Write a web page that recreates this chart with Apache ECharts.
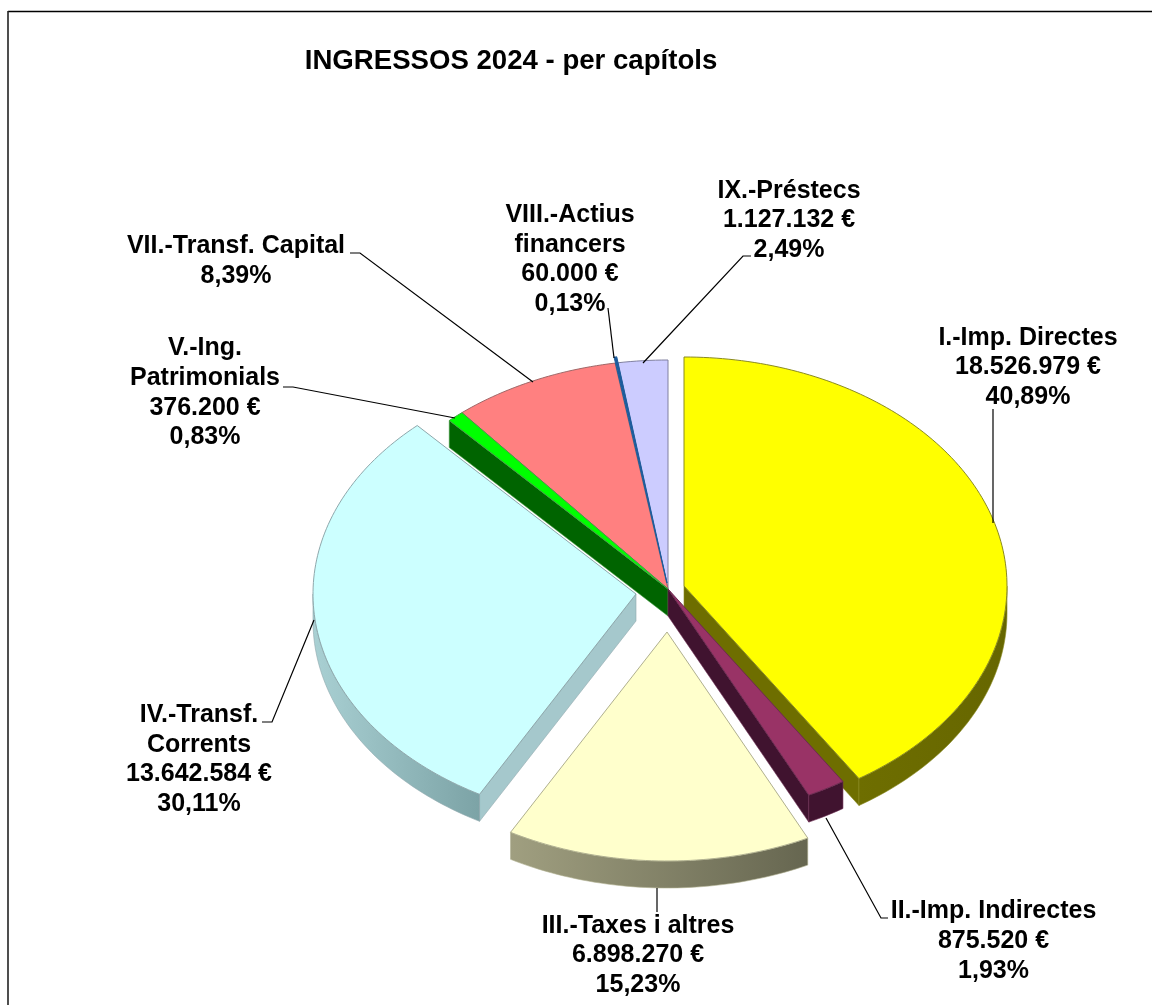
<!DOCTYPE html>
<html>
<head>
<meta charset="utf-8">
<style>html,body{margin:0;padding:0;background:#fff}#c{width:1152px;height:1005px}</style>
<script src="https://cdn.jsdelivr.net/npm/echarts@6/dist/echarts.min.js"></script>
</head>
<body>
<div id="c"></div>
<script>
// ---- data ----
const chartTitle = 'INGRESSOS 2024 - per capítols';
const chapterNames = ['I.-Imp. Directes', 'II.-Imp. Indirectes', 'III.-Taxes i altres', 'IV.-Transf.\nCorrents', 'V.-Ing.\nPatrimonials', 'VII.-Transf. Capital', 'VIII.-Actius\nfinancers', 'IX.-Préstecs'];
const chapterValues = [18526979, 875520, 6898270, 13642584, 376200, 3802000, 60000, 1127132];
const amountLabels = ['18.526.979 €', '875.520 €', '6.898.270 €', '13.642.584 €', '376.200 €', '', '60.000 €', '1.127.132 €'];
const percentLabels = ['40,89%', '1,93%', '15,23%', '30,11%', '0,83%', '8,39%', '0,13%', '2,49%'];

// ---- styling and layout ----
const topColors = ['#ffff00', '#993366', '#ffffcc', '#ccffff', '#00ff00', '#ff8080', '#1c5c9c', '#ccccff'];
const sideLeft = ['#6e6e00', '#40132f', '#a09f80', '#a9d0d3', '#006400', '#803f3f', '#0e2e4e', '#66667f'];
const sideRight = ['#666600', '#40132f', '#666650', '#7ca3a6', '#006400', '#803f3f', '#0e2e4e', '#66667f'];
const wallColors = ['#6e6e00', '#40132f', '#666650', '#a5c8cc', '#006400', '#803f3f', '#0e2e4e', '#66667f'];
const edgeColors = ['#8a8a20', '#6b2a50', '#b0b090', '#8fa8ac', '#40a040', '#a06868', '#1c5c9c', '#8080a0'];
const sliceOffsets = [[16, -3], [0, 0], [-1, 43], [-32, 5], [0, 0], [0, 0], [-1, -6], [0, 0]];
const wallHidden = [false, false, false, false, false, true, true, true];
const paintOrder = [7, 5, 6, 4, 0, 1, 3, 2];
const CX = 668, CY = 589, RX = 323, RY = 229, DEPTH = 27;

const labelCenters = [[1028, 367.5], [993.5, 941], [638, 955.5], [199, 759.5], [205, 393], [236, 261], [570, 259.5], [789, 220.5]];
const leaderPaths = [
  [[993, 409], [993, 523]],
  [[826, 818], [881, 918], [888, 918]],
  [[657, 888], [657, 912]],
  [[314, 620], [272, 722], [262, 722]],
  [[455, 418], [293, 387], [283, 387]],
  [[533, 382], [360, 253], [350, 253]],
  [[608, 308], [614, 358]],
  [[643, 363], [743, 256], [751, 256]]
];
const FONT = 'Liberation Sans';

// ---- cumulative angles from values (clockwise from 12 o'clock) ----
const total = chapterValues.reduce((a, b) => a + b, 0);
const startAngles = [], endAngles = [];
chapterValues.reduce((acc, v, i) => {
  startAngles[i] = acc / total * 2 * Math.PI;
  endAngles[i] = (acc + v) / total * 2 * Math.PI;
  return acc + v;
}, 0);

function arcPoints(cx, cy, a0, a1) {
  const n = Math.max(2, Math.ceil((a1 - a0) / 0.02));
  const pts = [];
  for (let k = 0; k <= n; k++) {
    const a = a0 + (a1 - a0) * k / n;
    pts.push([cx + RX * Math.sin(a), cy - RY * Math.cos(a)]);
  }
  return pts;
}
const shift = pts => pts.map(p => [p[0], p[1] + DEPTH]);

function renderSlice(params) {
  const idx = paintOrder[params.dataIndex];
  const a0 = startAngles[idx], a1 = endAngles[idx];
  const cx = CX + sliceOffsets[idx][0], cy = CY + sliceOffsets[idx][1];
  const children = [];
  const poly = (points, fill, stroke, lw) => ({
    type: 'polygon', shape: { points },
    style: { fill, stroke: stroke || null, lineWidth: lw || 0 }
  });
  const outer = arcPoints(cx, cy, a0, a1);
  // flat walls at the slice's cut edges
  if (!wallHidden[idx] && Math.sin(a0) < 0) {
    const o = outer[0];
    children.push(poly([[cx, cy], o, [o[0], o[1] + DEPTH], [cx, cy + DEPTH]], wallColors[idx], edgeColors[idx], 0.6));
  }
  if (!wallHidden[idx] && Math.sin(a1) > 0) {
    const o = outer[outer.length - 1];
    children.push(poly([[cx, cy], o, [o[0], o[1] + DEPTH], [cx, cy + DEPTH]], wallColors[idx], edgeColors[idx], 0.6));
  }
  // curved rim for the front half
  const r0 = Math.max(a0, Math.PI / 2), r1 = Math.min(a1, 3 * Math.PI / 2);
  if (r1 > r0) {
    const rim = arcPoints(cx, cy, r0, r1);
    const fill = new echarts.graphic.LinearGradient(0, 0, 1, 0, [
      { offset: 0, color: sideLeft[idx] }, { offset: 1, color: sideRight[idx] }
    ]);
    children.push(poly(rim.concat(shift(rim).reverse()), fill, edgeColors[idx], 0.6));
  }
  // top face
  children.push(poly([[cx, cy]].concat(outer), topColors[idx], edgeColors[idx], 1));
  return { type: 'group', children };
}

function renderLabel(params) {
  const idx = params.dataIndex;
  const lines = [chapterNames[idx]];
  if (amountLabels[idx]) lines.push(amountLabels[idx]);
  lines.push(percentLabels[idx]);
  return {
    type: 'group',
    children: [
      { type: 'polyline', shape: { points: leaderPaths[idx] }, style: { stroke: '#000', lineWidth: 1.2, fill: null } },
      {
        type: 'text',
        style: {
          text: lines.join('\n'), x: labelCenters[idx][0], y: labelCenters[idx][1],
          align: 'center', verticalAlign: 'middle',
          fontFamily: FONT, fontWeight: 'bold', fontSize: 25, lineHeight: 29.7, fill: '#000'
        }
      }
    ]
  };
}

const chart = echarts.init(document.getElementById('c'), null, { renderer: 'canvas' });
chart.setOption({
  animation: false,
  backgroundColor: '#fff',
  title: {
    text: chartTitle, left: 506, top: 42, textAlign: 'center',
    textStyle: { fontFamily: FONT, fontWeight: 'bold', fontSize: 27.6, color: '#000' }
  },
  graphic: [
    { type: 'line', shape: { x1: 8, y1: 11.5, x2: 1152, y2: 11.5 }, style: { stroke: '#000', lineWidth: 1.3 }, silent: true },
    { type: 'line', shape: { x1: 8, y1: 11, x2: 8, y2: 1005 }, style: { stroke: '#222', lineWidth: 1.6 }, silent: true }
  ],
  series: [
    { type: 'custom', coordinateSystem: 'none', renderItem: renderSlice, data: paintOrder.map(i => chapterValues[i]), silent: true, z: 2 },
    { type: 'custom', coordinateSystem: 'none', renderItem: renderLabel, data: chapterValues, silent: true, z: 3 }
  ]
});
</script>
</body>
</html>
